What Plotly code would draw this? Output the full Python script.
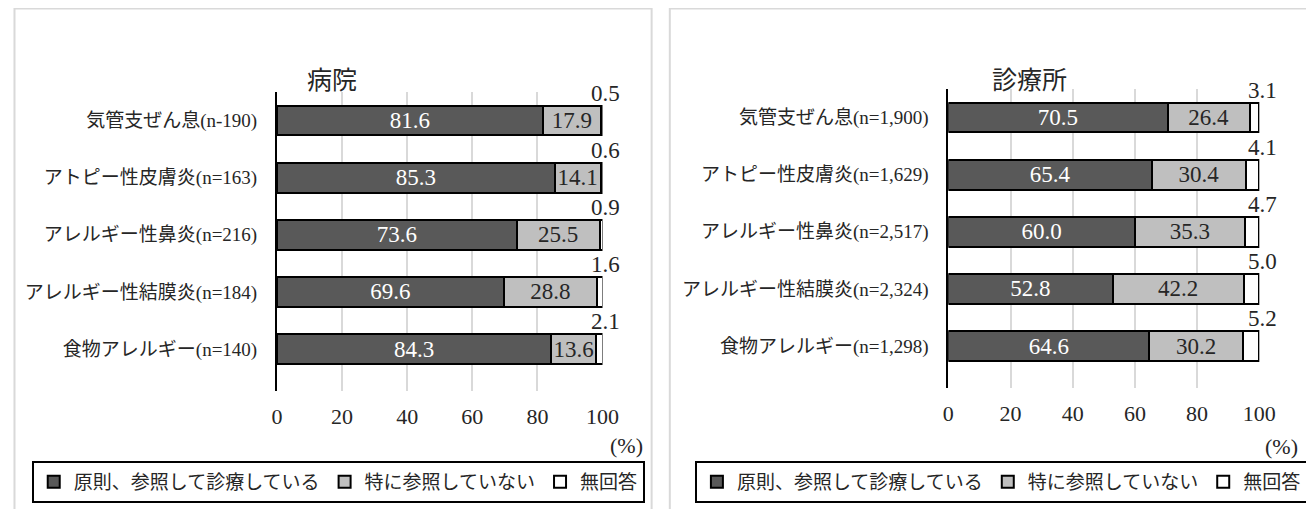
import plotly.graph_objects as go

# ---- data ----
hosp_categories = ["気管支ぜん息(n-190)", "アトピー性皮膚炎(n=163)", "アレルギー性鼻炎(n=216)",
                   "アレルギー性結膜炎(n=184)", "食物アレルギー(n=140)"]
hosp_principle = [81.6, 85.3, 73.6, 69.6, 84.3]
hosp_not_ref = [17.9, 14.1, 25.5, 28.8, 13.6]
hosp_no_answer = [0.5, 0.6, 0.9, 1.6, 2.1]

clin_categories = ["気管支ぜん息(n=1,900)", "アトピー性皮膚炎(n=1,629)", "アレルギー性鼻炎(n=2,517)",
                   "アレルギー性結膜炎(n=2,324)", "食物アレルギー(n=1,298)"]
clin_principle = [70.5, 65.4, 60.0, 52.8, 64.6]
clin_not_ref = [26.4, 30.4, 35.3, 42.2, 30.2]
clin_no_answer = [3.1, 4.1, 4.7, 5.0, 5.2]

series_names = ["原則、参照して診療している", "特に参照していない", "無回答"]
panel_titles = ["病院", "診療所"]
x_ticks = [0, 20, 40, 60, 80, 100]

# ---- style ----
FONT = "Liberation Serif, Noto Sans CJK JP, serif"
colors = ["#595959", "#bfbfbf", "#ffffff"]
text_colors = ["#ffffff", "#262626", "#262626"]
W, H = 1314, 509
OFF = 8  # page body margin


def px_x(v):
    return (v - OFF) / W


def px_y(v):
    return 1 - (v - OFF) / H


fig = go.Figure()

panels = [
    (hosp_categories, [hosp_principle, hosp_not_ref, hosp_no_answer], "x", "y", "legend"),
    (clin_categories, [clin_principle, clin_not_ref, clin_no_answer], "x2", "y2", "legend2"),
]

for cats, series, xa, ya, lg in panels:
    for i, (name, vals) in enumerate(zip(series_names, series)):
        show_text = i < 2
        fig.add_trace(go.Bar(
            y=cats, x=vals, name=name, orientation="h",
            xaxis=xa, yaxis=ya, legend=lg,
            marker=dict(color=colors[i], line=dict(color="#000000", width=2)),
            text=[f"{v:.1f}" for v in vals] if show_text else None,
            textposition="inside" if show_text else "none",
            insidetextanchor="middle",
            constraintext="none",
            insidetextfont=dict(family=FONT, size=23, color=text_colors[i]),
            hoverinfo="x+y+name",
        ))
    # small "no answer" labels above the bar ends
    totals = [a + b + c for a, b, c in zip(*series)]
    for cat, tot, v in zip(cats, totals, series[2]):
        fig.add_annotation(
            x=tot, y=cat, xref=xa, yref=ya, text=f"{v:.1f}", showarrow=False,
            xanchor="center", yanchor="bottom", yshift=13, xshift=3,
            font=dict(family=FONT, size=23, color="#262626"),
        )

axis_common = dict(
    range=[0, 100], tickvals=x_ticks, showgrid=True, gridcolor="#d9d9d9", gridwidth=2,
    zeroline=False, showline=False, ticks="", fixedrange=True,
    tickfont=dict(family=FONT, size=22, color="#262626"), ticklabelstandoff=10,
)
yaxis_common = dict(
    autorange="reversed", showline=True, linecolor="#000000", linewidth=2,
    ticks="", showgrid=False, fixedrange=True, ticklabelstandoff=14,
    tickfont=dict(family=FONT, size=19, color="#262626"),
)

legend_common = dict(
    orientation="h", yanchor="middle", xanchor="center",
    bordercolor="#000000", borderwidth=2, bgcolor="#ffffff",
    font=dict(family=FONT, size=19, color="#262626"), itemwidth=30,
    traceorder="normal",
)

fig.update_layout(
    width=W, height=H,
    margin=dict(l=0, r=0, t=0, b=0),
    paper_bgcolor="#ffffff", plot_bgcolor="#ffffff",
    barmode="stack", bargap=0.48,
    showlegend=True,
    xaxis=dict(domain=[px_x(275.7), px_x(607)], anchor="y", **axis_common),
    yaxis=dict(domain=[px_y(391), px_y(92)], anchor="x", **yaxis_common),
    xaxis2=dict(domain=[px_x(959), px_x(1275.5)], anchor="y2", **axis_common),
    yaxis2=dict(domain=[px_y(388), px_y(89)], anchor="x2", **yaxis_common),
    legend=dict(x=px_x(338), y=px_y(482), **legend_common),
    legend2=dict(x=px_x(1013), y=px_y(482), **legend_common),
)

# panel frames
fig.add_shape(type="rect", xref="paper", yref="paper", x0=px_x(8.5), x1=px_x(657), y0=-0.2, y1=px_y(8.5),
              line=dict(color="#d9d9d9", width=2), layer="below")
fig.add_shape(type="rect", xref="paper", yref="paper", x0=px_x(675.5), x1=1.2, y0=-0.2, y1=px_y(8.5),
              line=dict(color="#d9d9d9", width=2), layer="below")

# titles
for title, cx in zip(panel_titles, [332, 1042]):
    fig.add_annotation(x=px_x(cx), y=px_y(80), xref="paper", yref="paper", text=title,
                       showarrow=False, xanchor="center", yanchor="middle",
                       font=dict(family=FONT, size=25, color="#262626"))

# (%) unit labels
for cx, cy in [(631, 445), (1298, 446)]:
    fig.add_annotation(x=px_x(cx), y=px_y(cy), xref="paper", yref="paper", text="(%)",
                       showarrow=False, xanchor="center", yanchor="middle",
                       font=dict(family=FONT, size=22, color="#262626"))

fig.write_html("out.html")
